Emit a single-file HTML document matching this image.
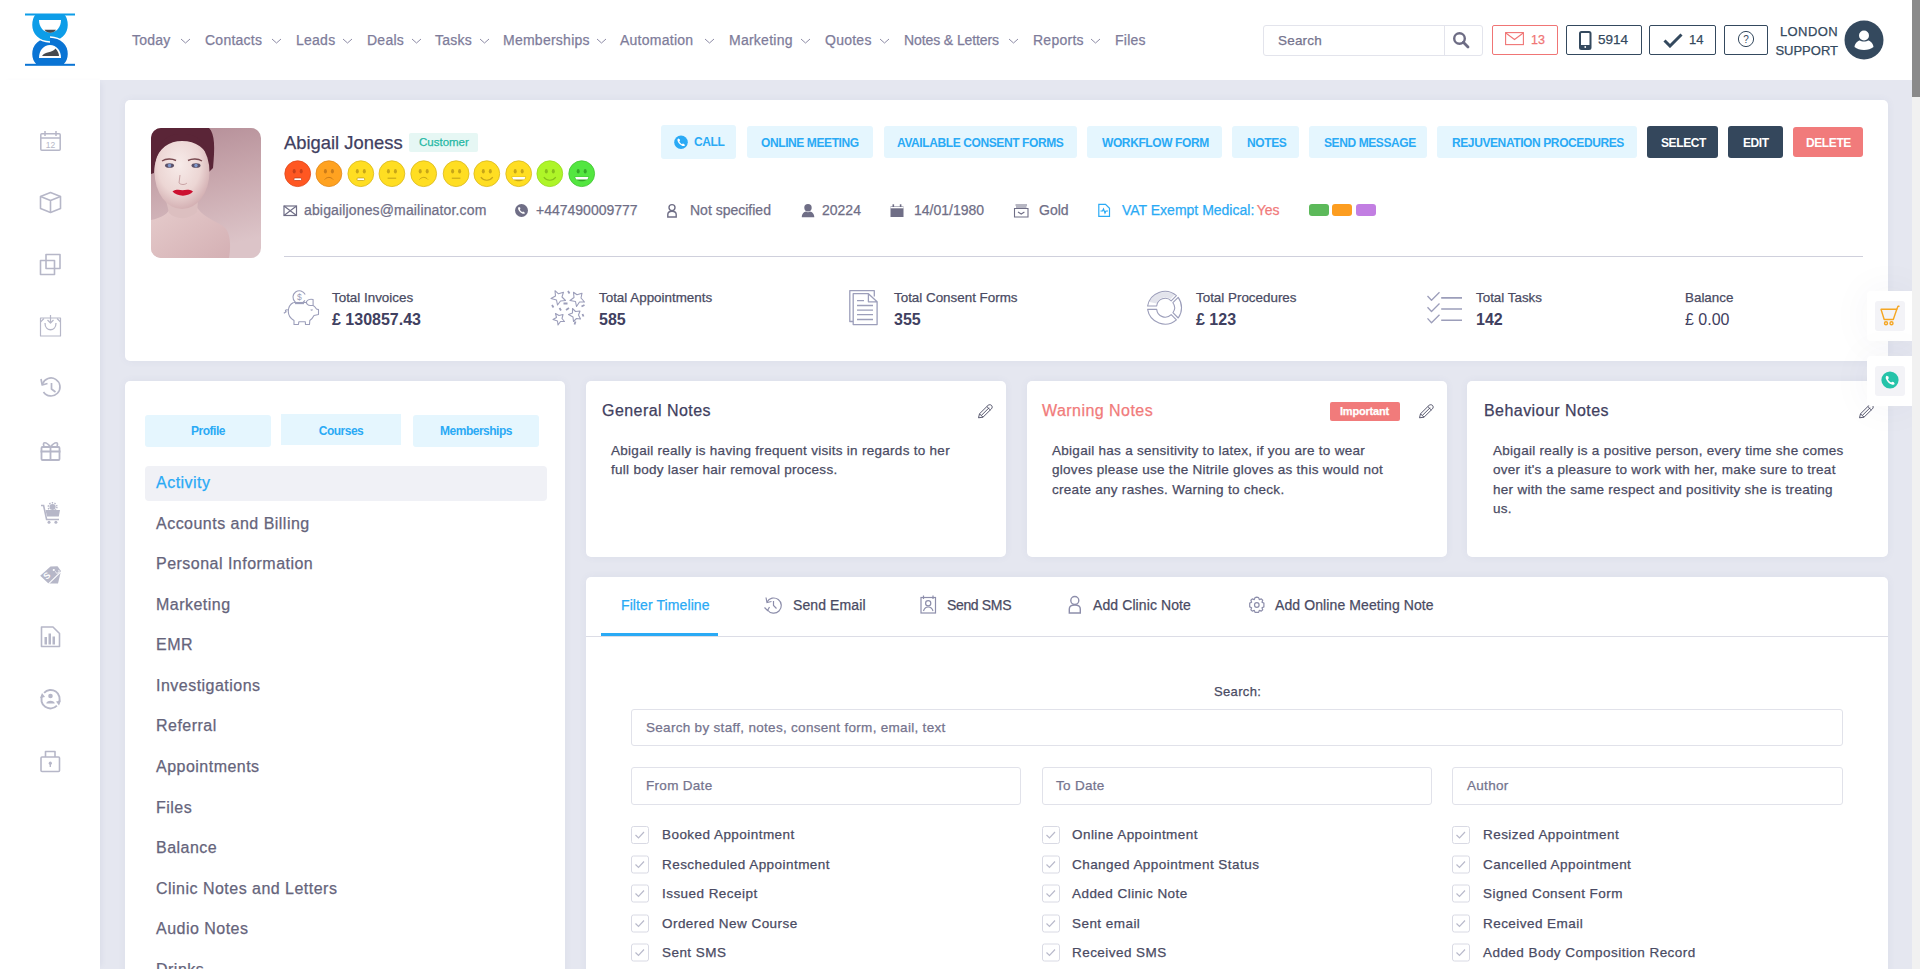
<!DOCTYPE html>
<html><head><meta charset="utf-8">
<style>
*{box-sizing:border-box;margin:0;padding:0}
html,body{width:1920px;height:969px;overflow:hidden;background:#e5e7f0;font-family:"Liberation Sans",sans-serif;color:#3f4254}
.abs{position:absolute}
#hdr{position:absolute;left:0;top:0;width:1912px;height:80px;background:#fff}
#side{position:absolute;left:0;top:80px;width:100px;height:889px;background:#fff;box-shadow:4px 0 6px -3px rgba(70,80,130,0.08)}
#scroll{position:absolute;left:1912px;top:0;width:8px;height:969px;background:#f1f1f1}
#thumb{position:absolute;left:1912px;top:0;width:8px;height:97px;background:#8a8a8a}
.card{position:absolute;background:#fff;border-radius:5px;box-shadow:0 0 9px rgba(70,80,130,0.06)}
.nav{position:absolute;top:32px;font-size:14px;color:#7e7c9a;white-space:nowrap;letter-spacing:0.25px}
.btnl{position:absolute;background:#e5f6fe;border-radius:3px}
.btxt{position:absolute;font-size:12px;font-weight:bold;color:#2aaaf5;letter-spacing:-0.4px;white-space:nowrap;line-height:14px}
.ct{position:absolute;top:202px;font-size:14px;color:#6f6e86;white-space:nowrap;line-height:16px}
.sl{position:absolute;top:290px;font-size:13.4px;color:#4a4b63;white-space:nowrap;line-height:15px}
.sv{position:absolute;top:311px;font-size:16px;font-weight:bold;color:#3f4060;white-space:nowrap;line-height:18px}
.tabt{position:absolute;top:424px;font-size:12px;font-weight:bold;color:#2aaaf5;text-align:center;letter-spacing:-0.5px;line-height:14px}
.mi{position:absolute;left:156px;font-size:16px;color:#65647b;letter-spacing:0.48px;line-height:18px;white-space:nowrap}
.nt{position:absolute;top:402px;font-size:16px;color:#3f4060;letter-spacing:0.45px;line-height:18px;white-space:nowrap}
.nb{position:absolute;top:440.5px;font-size:13.5px;color:#4a4b63;letter-spacing:0.28px;line-height:19.6px;white-space:nowrap}
.tt{position:absolute;top:597px;font-size:14px;color:#4a4b63;letter-spacing:0.1px;line-height:16px;white-space:nowrap}
.inp{position:absolute;border:1px solid #e1e2ea;border-radius:3px;background:#fff}
.ph{position:absolute;font-size:13.5px;color:#75748e;letter-spacing:0.3px;line-height:16px;white-space:nowrap}
.cl{position:absolute;font-size:13.5px;color:#4a4b63;letter-spacing:0.45px;line-height:16px;white-space:nowrap}
body div{-webkit-text-stroke:0.25px currentColor}
.btxt,.tabt,.sv{-webkit-text-stroke:0}
</style></head><body>
<!-- HEADER -->
<div id="hdr"></div>
<svg class="abs" style="left:25px;top:13px" width="50" height="53" viewBox="0 0 50 53">
 <defs><clipPath id="lrh"><rect x="25" y="14" width="30" height="18"/></clipPath></defs>
 <path id="ldk" d="M11,52 H39 C42,49 43.5,45 43.5,41 C43.5,31 36,24.5 25,24 C14,24.5 6.5,31 6.5,41 C6.5,45 8,49 11,52 Z" fill="#0a74d4" stroke="#fff" stroke-width="1.5"/>
 <path d="M10,1 H40 C42.5,4 43.5,8 43.5,12 C43.5,22 36,28.5 25,29 C14,28.5 6.5,22 6.5,12 C6.5,8 7.5,4 10,1 Z" fill="#0d9de8" stroke="#fff" stroke-width="1.5"/>
 <g clip-path="url(#lrh)"><path d="M11,52 H39 C42,49 43.5,45 43.5,41 C43.5,31 36,24.5 25,24 C14,24.5 6.5,31 6.5,41 C6.5,45 8,49 11,52 Z" fill="#0a74d4" stroke="#fff" stroke-width="1.5"/></g>
 <path d="M14,7 H36 C36,14 31.5,19.5 25,19.5 C18.5,19.5 14,14 14,7 Z" fill="#fff"/>
 <path d="M14,45 H36 C36,37.5 31.5,32 25,32 C18.5,32 14,37.5 14,45 Z" fill="#fff"/>
 <path d="M17,43 C20,38.5 27,40 30.5,35.5 C33,38 34,41 34,43 Z" fill="#474a4f"/>
 <path d="M19.5,16.8 H31 C29.5,19 27.5,19.8 25.3,19.8 C23,19.8 21,19 19.5,16.8 Z" fill="#474a4f"/>
 <rect x="0" y="0.5" width="50" height="2" fill="#0d9de8"/>
 <rect x="0" y="50.8" width="50" height="2" fill="#0a74d4"/>
</svg>


<div class="nav" style="left:132px">Today</div>
<div class="nav" style="left:205px">Contacts</div>
<div class="nav" style="left:296px">Leads</div>
<div class="nav" style="left:367px">Deals</div>
<div class="nav" style="left:435px">Tasks</div>
<div class="nav" style="left:503px">Memberships</div>
<div class="nav" style="left:620px">Automation</div>
<div class="nav" style="left:729px">Marketing</div>
<div class="nav" style="left:825px">Quotes</div>
<div class="nav" style="left:904px;letter-spacing:-0.1px">Notes &amp; Letters</div>
<div class="nav" style="left:1033px">Reports</div>
<div class="nav" style="left:1115px">Files</div>
<svg class="abs" style="left:0;top:0" width="1200" height="60">
 <g stroke="#8d8ba6" stroke-width="1" fill="none">
  <path d="M181,39 L185.5,43 L190,39"/>
  <path d="M272,39 L276.5,43 L281,39"/>
  <path d="M343,39 L347.5,43 L352,39"/>
  <path d="M412,39 L416.5,43 L421,39"/>
  <path d="M480,39 L484.5,43 L489,39"/>
  <path d="M597,39 L601.5,43 L606,39"/>
  <path d="M705,39 L709.5,43 L714,39"/>
  <path d="M801,39 L805.5,43 L810,39"/>
  <path d="M880,39 L884.5,43 L889,39"/>
  <path d="M1009,39 L1013.5,43 L1018,39"/>
  <path d="M1091,39 L1095.5,43 L1100,39"/>
 </g>
</svg>

<!-- search -->
<div class="abs" style="left:1263px;top:25px;width:220px;height:31px;border:1px solid #e3e4ec;border-radius:3px"></div>
<div class="abs" style="left:1444px;top:26px;width:1px;height:29px;background:#e3e4ec"></div>
<div class="abs" style="left:1278px;top:33px;font-size:13.5px;color:#75748e;letter-spacing:0.2px">Search</div>
<svg class="abs" style="left:1452px;top:31px" width="18" height="18" viewBox="0 0 18 18">
 <circle cx="7.5" cy="7.5" r="5.3" stroke="#6d6c84" stroke-width="2.4" fill="none"/>
 <path d="M11.3,11.3 L16,16" stroke="#6d6c84" stroke-width="2.8" stroke-linecap="round"/>
</svg>
<!-- badges -->
<div class="abs" style="left:1492px;top:25px;width:66px;height:30px;border:1px solid #f07575;border-radius:2px"></div>
<svg class="abs" style="left:1505px;top:32px" width="20" height="14" viewBox="0 0 20 14">
 <rect x="0.6" y="0.6" width="17.8" height="12" fill="none" stroke="#f07575" stroke-width="1.1"/>
 <path d="M0.8,1 L9.5,7.5 L18.2,1" fill="none" stroke="#f07575" stroke-width="1.1"/>
</svg>
<div class="abs" style="left:1531px;top:33px;font-size:12.5px;color:#f07575">13</div>

<div class="abs" style="left:1566px;top:25px;width:76px;height:30px;border:1px solid #34495e;border-radius:2px"></div>
<svg class="abs" style="left:1579px;top:31px" width="13" height="19" viewBox="0 0 13 19">
 <rect x="1" y="1" width="10.5" height="17" rx="1.5" fill="none" stroke="#34495e" stroke-width="2"/>
 <rect x="1" y="14" width="10.5" height="4" fill="#34495e"/>
 <circle cx="6.25" cy="16" r="0.9" fill="#fff"/>
</svg>
<div class="abs" style="left:1598px;top:32px;font-size:13.5px;color:#34495e">5914</div>

<div class="abs" style="left:1649px;top:25px;width:67px;height:30px;border:1px solid #34495e;border-radius:2px"></div>
<svg class="abs" style="left:1663px;top:33px" width="20" height="15" viewBox="0 0 20 15">
 <path d="M1.5,7.5 L7,13 L18.5,1.5" fill="none" stroke="#34495e" stroke-width="3"/>
</svg>
<div class="abs" style="left:1689px;top:32px;font-size:13px;color:#34495e">14</div>

<div class="abs" style="left:1724px;top:25px;width:44px;height:30px;border:1px solid #34495e;border-radius:2px"></div>
<svg class="abs" style="left:1737px;top:30px" width="18" height="18" viewBox="0 0 18 18">
 <circle cx="9" cy="9" r="7.6" fill="none" stroke="#34495e" stroke-width="1"/>
 <text x="9" y="12.6" font-size="10" text-anchor="middle" fill="#34495e" font-family="Liberation Sans">?</text>
</svg>
<div class="abs" style="left:1738px;top:22px;font-size:13px;color:#34495e;line-height:19px;text-align:right;width:100px;white-space:nowrap"><span style="letter-spacing:0.4px">LONDON</span><br>SUPPORT</div>
<svg class="abs" style="left:1844px;top:20px" width="40" height="40" viewBox="0 0 40 40">
 <circle cx="20" cy="20" r="19.5" fill="#34495e"/>
 <circle cx="20" cy="15.5" r="5" fill="#fff"/>
 <path d="M10.5,27 C11,22 15,20.5 16,20.5 C17.5,21.8 22.5,21.8 24,20.5 C25,20.5 29,22 29.5,27 C27,29 24,30 20,30 C16,30 13,29 10.5,27 Z" fill="#fff"/>
</svg>
<!-- SIDEBAR -->
<div id="side"></div>
<svg class="abs" style="left:0;top:80px" width="100" height="720" viewBox="0 80 100 720">
 <g stroke="#b6b7c8" stroke-width="1.5" fill="none">
  <!-- calendar -->
  <rect x="40.8" y="133.8" width="19.4" height="16.4" rx="1"/>
  <path d="M40.8,138 H60.2"/>
  <path d="M45,131 V136 M56,131 V136"/>
 </g>
 <text x="50.5" y="148" font-size="8.5" text-anchor="middle" fill="#b6b7c8" font-family="Liberation Sans">12</text>
 <g stroke="#b6b7c8" stroke-width="1.6" fill="none" stroke-linejoin="round">
  <!-- cube -->
  <path d="M50.5,192.5 L60.5,196.5 V208.5 L50.5,212.5 L40.5,208.5 V196.5 Z"/>
  <path d="M40.5,196.5 L50.5,200.5 L60.5,196.5 M50.5,200.5 V212.5"/>
  <!-- squares -->
  <rect x="46" y="254.5" width="14" height="14"/>
  <rect x="40.5" y="260.5" width="14" height="14"/>
  <!-- bag -->
  <rect x="40.5" y="318" width="20" height="18" stroke-width="1.2"/>
  <path d="M45,323 C45,332 56,332 56,323" stroke-width="1.3"/>
  <path d="M50.5,315 V323 M47.5,320 L50.5,323 L53.5,320" stroke-width="1.2"/>
  <path d="M40.5,322 L44,318.5 M60.5,322 L57,318.5" stroke-width="1.1"/>
  <!-- history -->
  <path d="M43.5,392 A9,9 0 1 0 42.5,384" stroke-width="1.7"/>
  <path d="M41,379 L42.2,385 L47.5,383.5" stroke-width="1.7"/>
  <path d="M51.5,383 V389 L55.5,392" stroke-width="1.7"/>
  <!-- gift -->
  <rect x="41.5" y="447" width="18" height="13" rx="1" stroke-width="1.8"/>
  <path d="M40.5,451.5 H60.5 M50.5,447 V460" stroke-width="1.8"/>
  <path d="M50.5,447 C46,441 42,442 44,446 M50.5,447 C55,441 59,442 57,446" stroke-width="1.7"/>
  <!-- doc report -->
  <path d="M41.5,627 H53 L59.5,633.5 V646.5 H41.5 Z" stroke-width="1.6"/>
  <!-- user rotate -->
  <path d="M44.1,692.8 A9,9 0 0 1 58.7,703" stroke-width="1.9"/>
  <path d="M56.9,705.6 A9,9 0 0 1 42.3,695.4" stroke-width="1.9"/>
  <!-- lock -->
  <rect x="41" y="757" width="18.5" height="14.5" rx="1" stroke-width="1.6"/>
  <path d="M45.5,757 V751.5 H55 V757" stroke-width="1.6"/>
 </g>
 <g fill="#b6b7c8">
  <rect x="44.5" y="637" width="2.5" height="7.5"/>
  <rect x="48.5" y="633.5" width="2.5" height="11"/>
  <rect x="52.5" y="636.5" width="2.5" height="8"/>
  <path d="M40,698 L42,693 L45,697 Z"/>
  <path d="M61,700.5 L59,705.5 L56,701.5 Z"/>
  <circle cx="50.5" cy="696" r="2.3"/>
  <path d="M46.3,703.5 C46.3,699.8 54.7,699.8 54.7,703.5 Z"/>
  <circle cx="50.3" cy="763.2" r="1.6"/>
  <rect x="49.6" y="763" width="1.4" height="4"/>
  <!-- cart -->
  <circle cx="52.6" cy="507" r="3.1"/>
  <path d="M45.5,510 H60 L58.8,516.6 H47 Z"/>
  <circle cx="49" cy="522.2" r="1.5"/><circle cx="55.9" cy="522.2" r="1.5"/>
  <!-- tag -->
  <path d="M40.2,575.7 L50.5,566.5 L57.5,566.3 L61,571 L58,583.5 H48.5 Z"/>
 </g>
 <g stroke="#b6b7c8" stroke-width="1.5" fill="none">
  <path d="M41,505.5 H43.6 L46.6,519.5 H59" stroke-width="1.6"/>
  <circle cx="52.6" cy="507" r="4.3" stroke-width="1.5" stroke-dasharray="1.4,1.3"/>
 </g>
 <path d="M48.5,583.8 L60.8,571.8" stroke="#fff" stroke-width="1.1"/>
 <text x="0" y="0" font-size="9" font-weight="bold" fill="#fff" font-family="Liberation Sans" transform="translate(46.5,580) rotate(-40)">S</text>
 <circle cx="53.8" cy="570" r="1.1" fill="#fff"/>
 <path d="M55.5,571.5 A1.8,1.8 0 1 0 58.5,570" stroke="#fff" stroke-width="0.9" fill="none"/>
</svg>
<!-- PROFILE CARD -->
<div class="card" style="left:125px;top:100px;width:1763px;height:261px"></div>
<svg class="abs" style="left:151px;top:128px" width="110" height="130" viewBox="0 0 110 130">
 <defs>
  <clipPath id="pc"><rect x="0" y="0" width="110" height="130" rx="10"/></clipPath>
  <linearGradient id="bgp" x1="0" y1="0" x2="0.2" y2="1">
   <stop offset="0" stop-color="#b38c96"/><stop offset="0.5" stop-color="#c9a8ae"/><stop offset="1" stop-color="#dcc4c8"/>
  </linearGradient>
  <radialGradient id="skin" cx="0.45" cy="0.4" r="0.65">
   <stop offset="0" stop-color="#f7ebe9"/><stop offset="0.6" stop-color="#ecd6d4"/><stop offset="1" stop-color="#cfa9ad"/>
  </radialGradient>
  <linearGradient id="body" x1="0" y1="0" x2="1" y2="1">
   <stop offset="0" stop-color="#e6cccc"/><stop offset="1" stop-color="#d4b0b4"/>
  </linearGradient>
 </defs>
 <g clip-path="url(#pc)">
  <rect width="110" height="130" fill="url(#bgp)"/>
  <path d="M0,92 C10,90 18,86 20,78 L44,76 C50,88 62,92 72,98 C80,104 80,118 78,130 H0 Z" fill="url(#body)"/>
  <path d="M12,60 L18,85 C25,92 38,92 46,84 L48,62 Z" fill="#dcbfc0"/>
  <path d="M0,0 H58 C64,6 64,20 62,40 L58,44 C55,20 45,10 30,10 C15,10 5,20 3,45 L0,46 Z" fill="#5a2537"/>
  <ellipse cx="31" cy="44" rx="27.5" ry="37" fill="url(#skin)"/>
  <path d="M4,34 C5,14 16,6 31,6 C46,6 57,14 60,34 C55,20 45,13 31,13 C18,13 8,20 4,34 Z" fill="#5a2537"/>
  <path d="M11,33 C15,30.5 21,30.5 25,32.5" stroke="#7a4a50" stroke-width="1.4" fill="none"/>
  <path d="M37,32.5 C41,30.5 47,30.5 51,33" stroke="#7a4a50" stroke-width="1.4" fill="none"/>
  <ellipse cx="18.5" cy="37.5" rx="4.5" ry="2.3" fill="#5a5068"/>
  <ellipse cx="45" cy="37.5" rx="4.5" ry="2.3" fill="#5a5068"/>
  <circle cx="18.5" cy="37.5" r="1.7" fill="#7f98cc"/>
  <circle cx="45" cy="37.5" r="1.7" fill="#7f98cc"/>
  <path d="M29,47 L28,55 C30,57 34,57 36,55" stroke="#c9a3a5" stroke-width="1" fill="none"/>
  <path d="M21.5,63.5 C25.5,61 28.5,62 31.5,62.3 C34.5,62 38,61 42,63.5 C38,69 26,69 21.5,63.5 Z" fill="#cc1030"/>
 </g>
</svg>

<div class="abs" style="left:284px;top:132px;font-size:18.4px;color:#3f4060;white-space:nowrap;line-height:21px">Abigail Joness</div>
<div class="abs" style="left:409px;top:133px;width:69px;height:19px;background:#e6f7f4;border-radius:2px"></div>
<div class="abs" style="left:419px;top:136px;font-size:11.5px;color:#25b8a4;white-space:nowrap">Customer</div>

<svg class="abs" style="left:280px;top:156px" width="320" height="36" viewBox="280 156 320 36">
 <defs>
  <g id="eyes"><ellipse cx="-3.5" cy="-2.4" rx="1.5" ry="2.2"/><ellipse cx="3.5" cy="-2.4" rx="1.5" ry="2.2"/></g>
 </defs>
 <g transform="translate(297.7,173.7)"><circle r="12.9" fill="#ff5722" stroke="#e0471a" stroke-width="0.8"/><g fill="#c8401a"><use href="#eyes"/></g><rect x="-3.8" y="4.2" width="7.6" height="2.6" rx="1" fill="#fff" stroke="#c8401a" stroke-width="0.8"/></g>
 <g transform="translate(328.9,173.7)"><circle r="12.9" fill="#ffa220" stroke="#e0881a" stroke-width="0.8"/><g fill="#c97a18"><use href="#eyes"/></g><path d="M-4.2,5.8 C-2,3 2,3 4.2,5.8" stroke="#c97a18" stroke-width="1" fill="none"/></g>
 <g transform="translate(360.8,173.7)"><circle r="12.9" fill="#ffde22" stroke="#d9b81c" stroke-width="0.8"/><g fill="#c6a518"><use href="#eyes"/></g><rect x="-3.8" y="4.2" width="7.6" height="2.6" rx="1" fill="#fff" stroke="#c6a518" stroke-width="0.8"/></g>
 <g transform="translate(391.9,173.7)"><circle r="12.9" fill="#ffde22" stroke="#d9b81c" stroke-width="0.8"/><g fill="#c6a518"><use href="#eyes"/></g><path d="M-4.3,4.5 H4.3" stroke="#c6a518" stroke-width="1.1"/></g>
 <g transform="translate(423.7,173.7)"><circle r="12.9" fill="#ffde22" stroke="#d9b81c" stroke-width="0.8"/><g fill="#c6a518"><use href="#eyes"/></g><path d="M-4.2,5.8 C-2,3 2,3 4.2,5.8" stroke="#c6a518" stroke-width="1" fill="none"/></g>
 <g transform="translate(456.1,173.7)"><circle r="12.9" fill="#ffde22" stroke="#d9b81c" stroke-width="0.8"/><g fill="#c6a518"><use href="#eyes"/></g><path d="M-4.3,4.5 H4.3" stroke="#c6a518" stroke-width="1.1"/></g>
 <g transform="translate(486.8,173.7)"><circle r="12.9" fill="#ffde22" stroke="#d9b81c" stroke-width="0.8"/><g fill="#c6a518"><use href="#eyes"/></g><path d="M-6,3.5 C-3,7.5 3,7.5 6,3.5" stroke="#c6a518" stroke-width="1.1" fill="none"/></g>
 <g transform="translate(518.7,173.7)"><circle r="12.9" fill="#ffde22" stroke="#d9b81c" stroke-width="0.8"/><g fill="#c6a518"><use href="#eyes"/></g><path d="M-7.2,3 H7.4 C6,9 -6,9 -7.2,3 Z" fill="#c6a518"/><path d="M-6.6,3.4 H6.8 C6.4,4.6 6,5.6 5.4,5.9 H-5.2 C-5.8,5.6 -6.3,4.6 -6.6,3.4 Z" fill="#fff"/></g>
 <g transform="translate(549.8,173.7)"><circle r="12.9" fill="#aef528" stroke="#97d820" stroke-width="0.8"/><g fill="#86c01a"><use href="#eyes"/></g><path d="M-6,3.5 C-3,7.5 3,7.5 6,3.5" stroke="#86c01a" stroke-width="1.1" fill="none"/></g>
 <g transform="translate(581.7,173.7)"><circle r="12.9" fill="#53e640" stroke="#43c432" stroke-width="0.8"/><g fill="#34a828"><use href="#eyes"/></g><path d="M-7.2,3 H7.4 C6,9 -6,9 -7.2,3 Z" fill="#34a828"/><path d="M-6.6,3.4 H6.8 C6.4,4.6 6,5.6 5.4,5.9 H-5.2 C-5.8,5.6 -6.3,4.6 -6.6,3.4 Z" fill="#fff"/></g>
</svg>

<!-- action buttons -->
<div class="btnl" style="left:661px;top:125px;width:75px;height:34px"></div>
<svg class="abs" style="left:674px;top:135px" width="15" height="15" viewBox="0 0 15 15">
 <circle cx="7" cy="7.2" r="6.8" fill="#2aaaf5"/>
 <path d="M4.2,3.6 C3.5,4 3.2,5 3.7,6.3 C4.5,8.3 6.3,10.2 8.5,10.9 C9.7,11.3 10.5,11 10.9,10.4 L10.2,9 L8.8,8.6 L8,9.3 C7,8.8 5.8,7.6 5.3,6.5 L6,5.8 L5.7,4.3 Z" fill="#fff"/>
</svg>
<div class="btxt" style="left:694px;top:135px">CALL</div>
<div class="btnl" style="left:747px;top:126px;width:126px;height:32px"></div>
<div class="btxt" style="left:761px;top:136px">ONLINE MEETING</div>
<div class="btnl" style="left:884px;top:126px;width:193px;height:32px"></div>
<div class="btxt" style="left:897px;top:136px">AVAILABLE CONSENT FORMS</div>
<div class="btnl" style="left:1087px;top:126px;width:135px;height:32px"></div>
<div class="btxt" style="left:1102px;top:136px">WORKFLOW FORM</div>
<div class="btnl" style="left:1232px;top:126px;width:67px;height:32px"></div>
<div class="btxt" style="left:1247px;top:136px">NOTES</div>
<div class="btnl" style="left:1309px;top:126px;width:118px;height:32px"></div>
<div class="btxt" style="left:1324px;top:136px">SEND MESSAGE</div>
<div class="btnl" style="left:1437px;top:126px;width:200px;height:32px"></div>
<div class="btxt" style="left:1452px;top:136px">REJUVENATION PROCEDURES</div>
<div class="abs" style="left:1647px;top:126px;width:71px;height:32px;background:#34475c;border-radius:3px"></div>
<div class="btxt" style="left:1661px;top:136px;color:#fff">SELECT</div>
<div class="abs" style="left:1728px;top:126px;width:55px;height:32px;background:#34475c;border-radius:3px"></div>
<div class="btxt" style="left:1743px;top:136px;color:#fff">EDIT</div>
<div class="abs" style="left:1793px;top:127px;width:70px;height:30px;background:#f17b7b;border-radius:3px"></div>
<div class="btxt" style="left:1806px;top:136px;color:#fff">DELETE</div>

<!-- contact row -->
<svg class="abs" style="left:280px;top:198px" width="1110" height="26" viewBox="280 198 1110 26">
 <g stroke="#6f6e86" fill="none" stroke-width="1.2">
  <rect x="284" y="206" width="12.5" height="9.5"/>
  <path d="M284,206 L296.5,215.5 M296.5,206 L284,215.5"/>
  <!-- person outline -->
  <circle cx="672" cy="207.6" r="3" stroke-width="1.4"/>
  <path d="M667.8,217 V214.5 C667.8,212.3 669.5,211.3 672,211.3 C674.5,211.3 676.2,212.3 676.2,214.5 V217 Z" stroke-width="1.4"/>
 </g>
 <circle cx="521.5" cy="210.5" r="6.5" fill="#6f6e86"/>
 <path d="M518.8,207 C518.1,207.4 517.9,208.3 518.3,209.5 C519,211.3 520.7,213.1 522.7,213.7 C523.8,214 524.5,213.8 524.9,213.2 L524.2,211.9 L522.9,211.5 L522.2,212.2 C521.3,211.7 520.2,210.6 519.8,209.6 L520.4,208.9 L520.1,207.6 Z" fill="#fff"/>
 <g fill="#6f6e86">
  <circle cx="808" cy="207.8" r="3.7"/>
  <path d="M801.8,217.2 C801.8,213.5 804,211.8 806,211.4 C807.5,212.4 808.5,212.4 810,211.4 C812,211.8 814.3,213.5 814.3,217.2 Z"/>
  <rect x="890.5" y="206.5" width="13" height="10.5"/>
  <rect x="892.5" y="204.3" width="1.6" height="3"/><rect x="899.8" y="204.3" width="1.6" height="3"/>
 </g>
 <rect x="890.5" y="207" width="13" height="1.3" fill="#fff"/>
 <g stroke="#6f6e86" fill="none" stroke-width="1.1">
  <path d="M1014.5,208.5 H1028 V217 H1014.5 Z"/>
  <path d="M1015.5,205 H1027 M1016,207 H1026.5 M1018,212 L1021.2,214 L1024.4,212"/>
 </g>
 <g stroke="#2aaaf5" fill="none" stroke-width="1.2">
  <path d="M1098.8,204.3 H1105.5 L1109.5,208.3 V216.3 H1098.8 Z"/>
  <path d="M1100.5,211 H1102.5 L1103.5,209 L1105,213 L1106,211 H1108"/>
 </g>
</svg>
<div class="ct" style="left:304px;letter-spacing:0.15px">abigailjones@mailinator.com</div>
<div class="ct" style="left:536px">+447490009777</div>
<div class="ct" style="left:690px">Not specified</div>
<div class="ct" style="left:822px">20224</div>
<div class="ct" style="left:914px">14/01/1980</div>
<div class="ct" style="left:1039px">Gold</div>
<div class="ct" style="left:1122px;color:#2aaaf5">VAT Exempt Medical: <span style="color:#f17b7b;margin-left:-1.5px">Yes</span></div>
<div class="abs" style="left:1309px;top:204px;width:20px;height:12px;border-radius:3px;background:#5cb95a"></div>
<div class="abs" style="left:1332px;top:204px;width:20px;height:12px;border-radius:3px;background:#fc9d20"></div>
<div class="abs" style="left:1356px;top:204px;width:20px;height:12px;border-radius:3px;background:#c27ee2"></div>

<div class="abs" style="left:284px;top:256px;width:1579px;height:1px;background:#cfd0dc"></div>

<!-- stats -->
<svg class="abs" style="left:280px;top:286px" width="1190" height="44" viewBox="280 286 1190 44">
 <g stroke="#9c9eba" fill="none" stroke-width="1.1" stroke-linejoin="round">
  <!-- piggy -->
  <path d="M305.2,294.5 A6.4,6.4 0 1 0 304.9,300.4"/>
  <path d="M295,303.6 H304"/>
  <path d="M293.5,302.5 C290.5,304 288.3,307.5 288.3,311.5 C288.3,315.5 290.5,318.5 294,320.5 L294,324.5 H298.5 L298.8,321.8 H305.3 L305.5,324.5 H309.5 L309.8,320.5 C311.5,319.3 313,317.5 314,315.5 L318.5,314.5 V309.6 L316.5,309 C315.5,307.5 314.5,306 313.1,305.4 L313.1,299.5 C310.5,299 307.5,299.8 306.5,301.5 C306,304 308,305.5 310.5,305.5 L313.1,305.4"/>
  <path d="M293.5,302.5 L306.5,302.5"/>
  <path d="M288,310 C285.5,309 284.5,311.5 286.5,311.5 M286.5,311.5 L283.8,313.3"/>
  <path d="M310.8,309.5 C311.3,310.5 312,310.5 312.5,309.5"/>
  <!-- stars -->
  <path d="M555,290.7 L558.5,293.8 L563.5,292.2 L562,297 L565.5,300.5 L560.5,301 L557.5,305 L556.5,300 L551,298.5 L555.5,296 Z"/>
  <path d="M573.5,292.2 L577,294.8 L582,293.2 L581,298 L584.5,302 L579.5,302 L576.5,306.5 L575.5,301.5 L570,300.5 L574,297.5 Z"/>
  <path d="M555.5,313.5 L559,315.5 L563,314.5 L562,318.5 L564.5,321.5 L560.5,321.5 L558,325 L557.5,321 L553,319.5 L556.5,317.5 Z"/>
  <path d="M572.5,308.5 L575.5,311.5 L580,311 L578.5,315 L580.5,319 L576.5,318.5 L573.5,321.5 L573,317 L568.5,314.5 L572.5,313 Z"/>
  <path d="M568,291 L569.5,293.5 M563.5,303.5 H567.5 M552,305 L553.5,307.5 M559.5,308 L561,310.5 M566,310 L569,308 M581.5,306.5 L584.5,305 M582.5,314 L583.5,316.5 M575.5,321.5 L574.5,324.5" stroke-width="1.8"/>
  <!-- doc -->
  <path d="M853,321.5 H849.8 V290.6 H874.3 V296.5" stroke-width="1.3"/>
  <path d="M853.2,293.7 H868.4 L877.1,301.8 V324.6 H853.2 Z M868.4,293.7 V301.8 H877.1" stroke-width="1.3"/>
  <path d="M857,300.6 H864 M857,305.5 H873 M857,310.2 H873 M857,314.7 H873 M857,319.5 H873" stroke-width="1.3"/>
  <!-- donut -->
  <path d="M1147.6,306 A17.6,17.6 0 0 1 1176.4,295.6 L1171.2,300.8 A8.5,8.5 0 0 0 1156.7,306 Z"/>
  <path d="M1178.2,297.4 A17.6,17.6 0 0 1 1178.2,318 L1172.9,312.7 A8.5,8.5 0 0 0 1172.9,302.7 Z"/>
  <path d="M1176.4,319.8 A17.6,17.6 0 0 1 1147.6,309.4 H1156.7 A8.5,8.5 0 0 0 1171.2,314.6 Z"/>
  <!-- tasks -->
  <path d="M1427.5,296 L1431.5,300.3 L1439.5,292.3 M1427.5,307.2 L1431.5,311.5 L1439.5,303.5 M1427.5,318.4 L1431.5,322.7 L1439.5,314.7" stroke-width="1.3"/>
  <path d="M1441.2,297.9 H1462 M1441.2,309 H1462 M1441.2,320.2 H1462" stroke-width="1.6"/>
 </g>
 <text x="299.4" y="300.3" font-size="8.5" text-anchor="middle" fill="#9a9cb8" font-family="Liberation Sans">$</text>
 <path d="M1149.5,302 C1152,296 1158,292 1165,292 C1169,292 1172.5,293 1174.5,295 L1170.5,299 C1165,296 1158.5,298 1156.5,303.5 Z" fill="#9c9eba" opacity="0.28"/>
</svg>
<div class="sl" style="left:332px">Total Invoices</div><div class="sv" style="left:332px">£ 130857.43</div>
<div class="sl" style="left:599px">Total Appointments</div><div class="sv" style="left:599px">585</div>
<div class="sl" style="left:894px">Total Consent Forms</div><div class="sv" style="left:894px">355</div>
<div class="sl" style="left:1196px">Total Procedures</div><div class="sv" style="left:1196px">£ 123</div>
<div class="sl" style="left:1476px">Total Tasks</div><div class="sv" style="left:1476px">142</div>
<div class="sl" style="left:1685px">Balance</div><div class="sv" style="left:1685px;font-weight:normal">£ 0.00</div>
<!-- LEFT MENU CARD -->
<div class="card" style="left:125px;top:381px;width:440px;height:600px"></div>
<div class="btnl" style="left:145px;top:415px;width:126px;height:32px"></div>
<div class="btnl" style="left:281px;top:414px;width:120px;height:31px;border-radius:0"></div>
<div class="btnl" style="left:413px;top:415px;width:126px;height:32px"></div>
<div class="tabt" style="left:145px;width:126px">Profile</div>
<div class="tabt" style="left:281px;width:120px">Courses</div>
<div class="tabt" style="left:413px;width:126px">Memberships</div>
<div class="abs" style="left:145px;top:466px;width:402px;height:35px;background:#f0f1f6;border-radius:4px"></div>
<div class="mi" style="top:474px;color:#2aaaf5">Activity</div>
<div class="mi" style="top:515px">Accounts and Billing</div>
<div class="mi" style="top:555px">Personal Information</div>
<div class="mi" style="top:596px">Marketing</div>
<div class="mi" style="top:636px">EMR</div>
<div class="mi" style="top:677px">Investigations</div>
<div class="mi" style="top:717px">Referral</div>
<div class="mi" style="top:758px">Appointments</div>
<div class="mi" style="top:799px">Files</div>
<div class="mi" style="top:839px">Balance</div>
<div class="mi" style="top:880px">Clinic Notes and Letters</div>
<div class="mi" style="top:920px">Audio Notes</div>
<div class="mi" style="top:961px">Drinks</div>

<!-- NOTES CARDS -->
<div class="card" style="left:586px;top:381px;width:420px;height:176px"></div>
<div class="card" style="left:1027px;top:381px;width:420px;height:176px"></div>
<div class="card" style="left:1467px;top:381px;width:421px;height:176px"></div>
<div class="nt" style="left:602px">General Notes</div>
<div class="nt" style="left:1042px;color:#f17b7b">Warning Notes</div>
<div class="nt" style="left:1484px">Behaviour Notes</div>
<div class="abs" style="left:1330px;top:402px;width:70px;height:19px;background:#f17b7b;border-radius:2px"></div>
<div class="abs" style="left:1340px;top:405px;font-size:11px;font-weight:bold;color:#fff;letter-spacing:-0.2px;line-height:13px">Important</div>
<svg class="abs" style="left:0;top:395px" width="1900" height="30" viewBox="0 395 1900 30">
 <defs>
  <g id="pen" fill="none" stroke="#45465f" stroke-width="0.9" stroke-linejoin="round">
   <path d="M0,13 L1,9 L9.5,0.6 C10.5,-0.3 12,-0.3 13,0.6 C13.9,1.6 13.9,3 13,4 L4.5,12.4 Z"/>
   <path d="M1,9 L4.5,12.4 M8.4,1.8 L11.8,5.2 M3,10.5 L10.5,3"/>
  </g>
 </defs>
 <use href="#pen" x="978.5" y="404.8"/>
 <use href="#pen" x="1419.5" y="404.8"/>
 <use href="#pen" x="1859.5" y="404.8"/>
</svg>
<div class="nb" style="left:611px">Abigail really is having frequent visits in regards to her<br>full body laser hair removal process.</div>
<div class="nb" style="left:1052px">Abigail has a sensitivity to latex, if you are to wear<br>gloves please use the Nitrile gloves as this would not<br>create any rashes. Warning to check.</div>
<div class="nb" style="left:1493px">Abigail really is a positive person, every time she comes<br>over it's a pleasure to work with her, make sure to treat<br>her with the same respect and positivity she is treating<br>us.</div>

<!-- TIMELINE CARD -->
<div class="card" style="left:586px;top:577px;width:1302px;height:420px"></div>
<div class="abs" style="left:586px;top:636px;width:1302px;height:1px;background:#dcdde6"></div>
<div class="abs" style="left:601px;top:633px;width:117px;height:3px;background:#2aaaf5"></div>
<div class="tt" style="left:621px;color:#2aaaf5">Filter Timeline</div>
<div class="tt" style="left:793px">Send Email</div>
<div class="tt" style="left:947px;letter-spacing:-0.35px">Send SMS</div>
<div class="tt" style="left:1093px">Add Clinic Note</div>
<div class="tt" style="left:1275px">Add Online Meeting Note</div>
<svg class="abs" style="left:760px;top:594px" width="520" height="24" viewBox="760 594 520 24">
 <g fill="none" stroke="#8d8eab" stroke-width="1.2">
  <path d="M767.5,610 A7.6,7.6 0 1 0 767,602"/>
  <path d="M766,597.5 L767,602.5 L771.5,601.5"/>
  <path d="M773.5,601 V605.5 L776.5,608.5"/>
  <rect x="921" y="597.5" width="14.5" height="15.5"/>
  <path d="M923.5,595.5 V599 M933,595.5 V599"/>
  <circle cx="928.2" cy="603.3" r="2.6"/>
  <path d="M923.5,611 C924.5,607.5 926,607 928.2,607 C930.5,607 932,607.5 933,611"/>
  <circle cx="1074.8" cy="600.5" r="4" stroke-width="1.4"/>
  <path d="M1069.3,613 V609 C1069.3,606.2 1071.5,605 1074.8,605 C1078,605 1080.3,606.2 1080.3,609 V613 Z" stroke-width="1.4"/>
  <circle cx="1256.8" cy="605" r="2.3"/>
  <path d="M1256.8,597.2 L1258.6,597.6 L1259.3,599.6 L1261.3,598.9 L1262.7,600.2 L1262,602.2 L1263.9,603.1 V606.9 L1262,607.8 L1262.7,609.8 L1261.3,611.1 L1259.3,610.4 L1258.6,612.4 H1255 L1254.3,610.4 L1252.3,611.1 L1250.9,609.8 L1251.6,607.8 L1249.7,606.9 V603.1 L1251.6,602.2 L1250.9,600.2 L1252.3,598.9 L1254.3,599.6 L1255,597.6 Z" stroke-linejoin="round"/>
 </g>
 <path d="M764.5,607.5 L767.5,610.5 L769.5,607" fill="none" stroke="#8d8eab" stroke-width="1.2"/>
</svg>

<div class="abs" style="left:1214px;top:684px;font-size:13px;color:#4a4b63;letter-spacing:0.35px;line-height:15px">Search:</div>
<div class="inp" style="left:631px;top:709px;width:1212px;height:37px"></div>
<div class="ph" style="left:646px;top:720px">Search by staff, notes, consent form, email, text</div>
<div class="inp" style="left:631px;top:767px;width:390px;height:38px"></div>
<div class="inp" style="left:1042px;top:767px;width:390px;height:38px"></div>
<div class="inp" style="left:1452px;top:767px;width:391px;height:38px"></div>
<div class="ph" style="left:646px;top:778px">From Date</div>
<div class="ph" style="left:1056px;top:778px">To Date</div>
<div class="ph" style="left:1467px;top:778px">Author</div>

<svg class="abs" style="left:620px;top:815px" width="860" height="150" viewBox="620 815 860 150">
 <defs>
  <g id="cb">
   <rect x="0.5" y="0.5" width="17" height="17" rx="2" fill="#fff" stroke="#d9dae4" stroke-width="1"/>
   <path d="M4.5,9 L7.5,12 L13,6" fill="none" stroke="#b9bacb" stroke-width="1.2"/>
  </g>
 </defs>
 <use href="#cb" x="631" y="826"/><use href="#cb" x="1042" y="826"/><use href="#cb" x="1452" y="826"/>
 <use href="#cb" x="631" y="855.5"/><use href="#cb" x="1042" y="855.5"/><use href="#cb" x="1452" y="855.5"/>
 <use href="#cb" x="631" y="884.5"/><use href="#cb" x="1042" y="884.5"/><use href="#cb" x="1452" y="884.5"/>
 <use href="#cb" x="631" y="914.5"/><use href="#cb" x="1042" y="914.5"/><use href="#cb" x="1452" y="914.5"/>
 <use href="#cb" x="631" y="943.5"/><use href="#cb" x="1042" y="943.5"/><use href="#cb" x="1452" y="943.5"/>
</svg>
<div class="cl" style="left:662px;top:827px">Booked Appointment</div>
<div class="cl" style="left:662px;top:857px">Rescheduled Appointment</div>
<div class="cl" style="left:662px;top:886px">Issued Receipt</div>
<div class="cl" style="left:662px;top:916px">Ordered New Course</div>
<div class="cl" style="left:662px;top:945px">Sent SMS</div>
<div class="cl" style="left:1072px;top:827px">Online Appointment</div>
<div class="cl" style="left:1072px;top:857px">Changed Appointment Status</div>
<div class="cl" style="left:1072px;top:886px">Added Clinic Note</div>
<div class="cl" style="left:1072px;top:916px">Sent email</div>
<div class="cl" style="left:1072px;top:945px">Received SMS</div>
<div class="cl" style="left:1483px;top:827px">Resized Appointment</div>
<div class="cl" style="left:1483px;top:857px">Cancelled Appointment</div>
<div class="cl" style="left:1483px;top:886px">Signed Consent Form</div>
<div class="cl" style="left:1483px;top:916px">Received Email</div>
<div class="cl" style="left:1483px;top:945px">Added Body Composition Record</div>

<!-- FLOATING RIGHT PANEL -->
<div class="abs" style="left:1867px;top:291px;width:45px;height:50px;background:#fff;border-radius:4px 0 0 4px;box-shadow:0 0 40px rgba(60,60,100,0.05)"></div>
<div class="abs" style="left:1875px;top:301px;width:30px;height:30px;background:#f3f3f7;border-radius:3px"></div>
<svg class="abs" style="left:1875px;top:301px" width="30" height="30" viewBox="1875 301 30 30">
 <g fill="none" stroke="#f5a623" stroke-width="1.4" stroke-linejoin="round" stroke-linecap="round">
  <path d="M1881,309.3 H1896.8 L1893.3,319.5 H1884.2 Z"/>
  <path d="M1896.8,309.3 L1898,306.3 H1899"/>
  <circle cx="1886" cy="323.2" r="1.5"/><circle cx="1891.5" cy="323.2" r="1.5"/>
 </g>
</svg>
<div class="abs" style="left:1867px;top:356px;width:45px;height:50px;background:#fff;border-radius:4px 0 0 4px;box-shadow:0 0 40px rgba(60,60,100,0.05)"></div>
<div class="abs" style="left:1875px;top:366px;width:30px;height:30px;background:#f3f3f7;border-radius:3px"></div>
<svg class="abs" style="left:1881px;top:371px" width="18" height="18" viewBox="0 0 18 18">
 <circle cx="9" cy="9" r="8.6" fill="#25c3a9"/>
 <path d="M5.6,4.7 C4.8,5.2 4.4,6.4 5,7.9 C6,10.4 8.2,12.6 10.8,13.5 C12.3,14 13.2,13.6 13.7,12.9 L12.9,11.2 L11.2,10.7 L10.2,11.6 C9,11 7.5,9.5 6.9,8.2 L7.8,7.3 L7.4,5.5 Z" fill="#fff"/>
</svg>
<div id="scroll"></div><div id="thumb"></div>
</body></html>
